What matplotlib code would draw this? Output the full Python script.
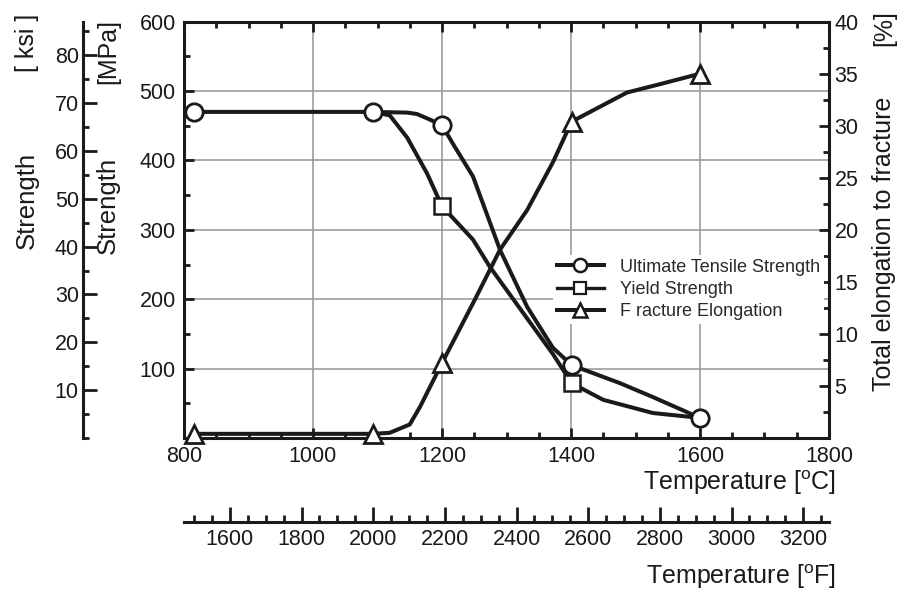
import matplotlib
matplotlib.use("Agg")
import matplotlib.pyplot as plt
from matplotlib.lines import Line2D
from matplotlib.ticker import MultipleLocator

plt.rcParams['font.family'] = ['Liberation Sans', 'DejaVu Sans']
plt.rcParams['mathtext.fontset'] = 'custom'
plt.rcParams['mathtext.rm'] = 'Liberation Sans'

# measured points (markers)
uts_temp = [815, 1093, 1200, 1401, 1600]
uts_mpa = [470, 470, 451, 105, 29]
ys_temp = [1200, 1401]
ys_mpa = [334, 79]
el_temp = [815, 1093, 1200, 1401, 1600]
el_pct = [0.4, 0.4, 7.2, 30.4, 35.0]

# curve traces
uts_curve_t = [815, 1093, 1146, 1161, 1181, 1200, 1217, 1248, 1290, 1332, 1372, 1401, 1476, 1527, 1600]
uts_curve_v = [470, 470, 469, 467, 459, 451, 424, 377, 271, 189, 130, 105, 79, 59, 29]
ys_curve_t = [1093, 1119, 1146, 1177, 1200, 1248, 1274, 1326, 1372, 1401, 1450, 1527, 1600]
ys_curve_v = [470, 465, 433, 381, 334, 286, 247, 180, 121, 79, 55, 36, 29]
el_curve_t = [815, 1093, 1119, 1150, 1166, 1200, 1251, 1290, 1332, 1372, 1401, 1487, 1538, 1600]
el_curve_v = [0.4, 0.4, 0.5, 1.3, 3.0, 7.2, 13.3, 18.1, 21.9, 26.5, 30.4, 33.2, 34.0, 35.0]

mpa_ticks = [100, 200, 300, 400, 500, 600]
ksi_ticks = [10, 20, 30, 40, 50, 60, 70, 80]
pct_ticks = [5, 10, 15, 20, 25, 30, 35, 40]
degc_ticks = [800, 1000, 1200, 1400, 1600, 1800]
degf_ticks = [1600, 1800, 2000, 2200, 2400, 2600, 2800, 3000, 3200]

labels = ['Ultimate Tensile Strength', 'Yield Strength', 'F racture Elongation']

INK = '#1a1a1a'
GRID = '#9c9c9c'
TICK_FS = 15.5
LABEL_FS = 18
LW = 2.9

MPA_PER_KSI = 6.894757


def c_to_f(c):
    return c * 1.8 + 32


fig = plt.figure(figsize=(9.03, 5.92), dpi=100)
ax = fig.add_axes([184 / 903, 1 - 438 / 592, 645 / 903, 416.3 / 592])
ax_ksi = ax.twinx()
ax_f = ax.twiny()
ax_el = ax.twinx()

# main (MPa / degC)
ax.set_xlim(800, 1800)
ax.set_ylim(0, 600)
ax.set_xticks(degc_ticks)
ax.set_yticks(mpa_ticks)
ax.xaxis.set_minor_locator(MultipleLocator(50))
ax.yaxis.set_minor_locator(MultipleLocator(50))
ax.grid(True, color=GRID, lw=1.2)
ax.tick_params(which='both', direction='in', top=True, right=False, bottom=True, left=True,
               width=2.0, color=INK, labelsize=TICK_FS, labelcolor=INK)
ax.tick_params(which='major', length=7, pad=6)
ax.tick_params(which='minor', length=4)
for s in ax.spines.values():
    s.set_linewidth(2.2)
    s.set_color(INK)
ax.spines['right'].set_visible(False)

ax.plot(uts_curve_t, uts_curve_v, color=INK, lw=LW, zorder=3)
ax.plot(ys_curve_t, ys_curve_v, color=INK, lw=LW, zorder=3)
ax.plot(ys_temp, ys_mpa, 's', ms=11, mfc='white', mec=INK, mew=1.8, zorder=4)
ax.plot(uts_temp, uts_mpa, 'o', ms=12.5, mfc='white', mec=INK, mew=2.0, zorder=5)

# ksi axis on the far left
ax_ksi.set_ylim(0, 600 / MPA_PER_KSI)
ax_ksi.yaxis.set_ticks_position('left')
ax_ksi.yaxis.set_label_position('left')
ax_ksi.set_yticks(ksi_ticks)
ax_ksi.yaxis.set_minor_locator(MultipleLocator(5))
for name in ['right', 'top', 'bottom']:
    ax_ksi.spines[name].set_visible(False)
ax_ksi.spines['left'].set_position(('axes', (83 - 184) / 645))
ax_ksi.spines['left'].set_linewidth(2.2)
ax_ksi.spines['left'].set_color(INK)
ax_ksi.tick_params(axis='y', which='both', direction='in', width=2.0, color=INK,
                   labelsize=TICK_FS, labelcolor=INK, pad=3)
ax_ksi.tick_params(axis='y', which='major', length=10)
ax_ksi.tick_params(axis='y', which='minor', length=4)

# Fahrenheit axis below
ax_f.set_xlim(c_to_f(800), c_to_f(1800))
ax_f.xaxis.set_ticks_position('bottom')
ax_f.xaxis.set_label_position('bottom')
ax_f.set_xticks(degf_ticks)
ax_f.xaxis.set_minor_locator(MultipleLocator(50))
for name in ['right', 'top', 'left']:
    ax_f.spines[name].set_visible(False)
ax_f.spines['bottom'].set_position(('axes', (438 - 522) / 416.3))
ax_f.spines['bottom'].set_linewidth(2.2)
ax_f.spines['bottom'].set_color(INK)
ax_f.tick_params(axis='x', which='both', direction='in', width=2.0, color=INK,
                 labelsize=TICK_FS, labelcolor=INK, pad=5)
ax_f.tick_params(axis='x', which='major', length=11)
ax_f.tick_params(axis='x', which='minor', length=5)

# elongation axis on the right
ax_el.set_ylim(0, 40)
ax_el.set_yticks(pct_ticks)
ax_el.yaxis.set_minor_locator(MultipleLocator(2.5))
for name in ['left', 'top', 'bottom']:
    ax_el.spines[name].set_visible(False)
ax_el.spines['right'].set_linewidth(2.2)
ax_el.spines['right'].set_color(INK)
ax_el.tick_params(axis='y', which='both', direction='in', width=2.0, color=INK,
                  labelsize=TICK_FS, labelcolor=INK, pad=4)
ax_el.tick_params(axis='y', which='major', length=7)
ax_el.tick_params(axis='y', which='minor', length=4)
ax_el.plot(el_curve_t, el_curve_v, color=INK, lw=LW, zorder=3, clip_on=False)
ax_el.plot(el_temp, el_pct, '^', ms=13, mfc='white', mec=INK, mew=2.0, zorder=5, clip_on=False)

ax.tick_params(top=True, right=False)

# axis titles
fig.text(27 / 903, 1 - 43 / 592, '[ ksi ]', rotation=90, ha='center', va='center', fontsize=LABEL_FS, color=INK)
fig.text(27 / 903, 1 - 200 / 592, 'Strength', rotation=90, ha='center', va='center', fontsize=LABEL_FS + 0.5, color=INK)
fig.text(108 / 903, 1 - 52 / 592, '[MPa]', rotation=90, ha='center', va='center', fontsize=LABEL_FS, color=INK)
fig.text(108 / 903, 1 - 205 / 592, 'Strength', rotation=90, ha='center', va='center', fontsize=LABEL_FS + 0.5, color=INK)
fig.text(884 / 903, 1 - 28 / 592, '[%]', rotation=90, ha='center', va='center', fontsize=LABEL_FS, color=INK)
fig.text(884 / 903, 1 - 244 / 592, 'Total elongation to fracture', rotation=90, ha='center', va='center',
         fontsize=LABEL_FS, color=INK)
fig.text(836 / 903, 1 - 483 / 592, r'Temperature [$^{\rm o}$C]', ha='right', va='center', fontsize=LABEL_FS, color=INK)
fig.text(836 / 903, 1 - 577 / 592, r'Temperature [$^{\rm o}$F]', ha='right', va='center', fontsize=LABEL_FS, color=INK)

# legend
handles = [
    Line2D([], [], color=INK, lw=LW, marker='o', ms=9.5, mfc='white', mec=INK, mew=1.8),
    Line2D([], [], color=INK, lw=2.4, marker='s', ms=8.5, mfc='white', mec=INK, mew=1.6),
    Line2D([], [], color=INK, lw=LW, marker='^', ms=10, mfc='white', mec=INK, mew=1.8),
]
leg = ax_el.legend(handles, labels, loc='upper left', bbox_to_anchor=(553 / 903, 1 - 255 / 592),
                   bbox_transform=fig.transFigure, borderaxespad=0, borderpad=0.2,
                   frameon=True, fancybox=False, framealpha=1, facecolor='white', edgecolor='none',
                   fontsize=13, handlelength=2.6, handletextpad=0.9, labelspacing=0.3)
for t in leg.get_texts():
    t.set_color('#2a2a2a')

fig.savefig('out.png', dpi=100)
